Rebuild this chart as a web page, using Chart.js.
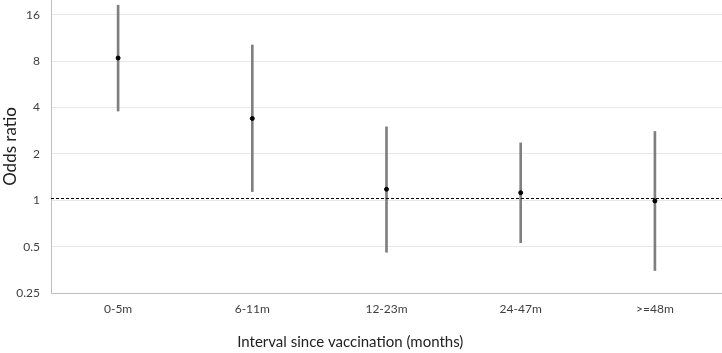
<!DOCTYPE html>
<html>
<head>
<meta charset="utf-8">
<script src="https://cdn.jsdelivr.net/npm/chart.js@4.4.0/dist/chart.umd.min.js"></script>
<style>
  html, body { margin: 0; padding: 0; background: #fff; }
  #wrap { width: 722px; height: 353px; }
</style>
</head>
<body>
<div id="wrap"><canvas id="orChart"></canvas></div>
<script>
// categories and values
const categories = ['0-5m', '6-11m', '12-23m', '24-47m', '>=48m'];
const oddsRatio = [8.4, 3.4, 1.18, 1.12, 0.99];
const ciLower = [3.8, 1.14, 0.46, 0.53, 0.35];
const ciUpper = [18.5, 10.2, 3.0, 2.36, 2.8];
const yTicks = [0.25, 0.5, 1, 2, 4, 8, 16];
const refLine = 1.03; // dashed reference line (sits just above 1 in the picture)
const xTitle = 'Interval since vaccination (months)';

// dashed line across the whole plot + x axis title (sits left of centre like the original)
const refLinePlugin = {
    id: 'refLine',
    afterDatasetsDraw(chart) {
        const ctx = chart.ctx;
        const area = chart.chartArea;
        const y = Math.round(chart.scales.y.getPixelForValue(refLine)) + 0.5;
        ctx.save();
        ctx.strokeStyle = '#000';
        ctx.lineWidth = 1;
        ctx.setLineDash([3, 2]);
        ctx.beginPath();
        ctx.moveTo(area.left, y);
        ctx.lineTo(area.right, y);
        ctx.stroke();
        ctx.restore();
    },
    afterDraw(chart) {
        const ctx = chart.ctx;
        const area = chart.chartArea;
        ctx.save();
        ctx.fillStyle = '#222';
        ctx.font = '15px Lato';
        ctx.textAlign = 'center';
        ctx.textBaseline = 'middle';
        ctx.fillText(xTitle, area.left + (area.right - area.left) * 0.446, chart.height - 11);
        ctx.restore();
    }
};

const ctx = document.getElementById('orChart').getContext('2d');
const orChart = new Chart(ctx, {
    data: {
        labels: categories,
        datasets: [
            {
                type: 'line',
                label: 'Odds ratio',
                data: oddsRatio,
                showLine: false,
                pointRadius: 2,
                pointBackgroundColor: '#000',
                pointBorderColor: '#000',
                order: 0
            },
            {
                type: 'bar',
                label: '95% CI',
                data: ciLower.map((lo, i) => [lo, ciUpper[i]]),
                backgroundColor: '#7f7f7f',
                barThickness: 2,
                order: 1
            }
        ]
    },
    options: {
        responsive: true,
        maintainAspectRatio: false,
        animation: false,
        layout: { padding: 0, autoPadding: false },
        plugins: {
            legend: { display: false },
            tooltip: { enabled: false }
        },
        scales: {
            x: {
                type: 'category',
                offset: true,
                grid: { display: false, drawTicks: false },
                border: { display: true, color: '#bfbfbf', width: 1 },
                ticks: {
                    padding: 9,
                    color: '#404040',
                    font: { family: 'Lato', size: 12 },
                    maxRotation: 0
                },
                afterFit(scale) {
                    scale.height = 60;
                    scale.paddingLeft = 0;
                    scale.paddingRight = 0;
                }
            },
            y: {
                type: 'logarithmic',
                min: 0.25,
                max: 20,
                afterBuildTicks(scale) {
                    scale.ticks = yTicks.map(v => ({ value: v }));
                },
                grid: { color: '#e8e8e8', drawTicks: false },
                border: { display: true, color: '#bfbfbf', width: 1 },
                ticks: {
                    padding: 11,
                    color: '#404040',
                    font: { family: 'Lato', size: 12 },
                    callback: v => String(v)
                },
                title: {
                    display: true,
                    text: 'Odds ratio',
                    color: '#222',
                    font: { family: 'Lato', size: 17 },
                    padding: { top: 0, bottom: 0 }
                },
                afterFit(scale) {
                    scale.width = 51;
                    scale.paddingTop = 0;
                    scale.paddingBottom = 0;
                }
            }
        }
    },
    plugins: [refLinePlugin]
});
</script>
</body>
</html>
